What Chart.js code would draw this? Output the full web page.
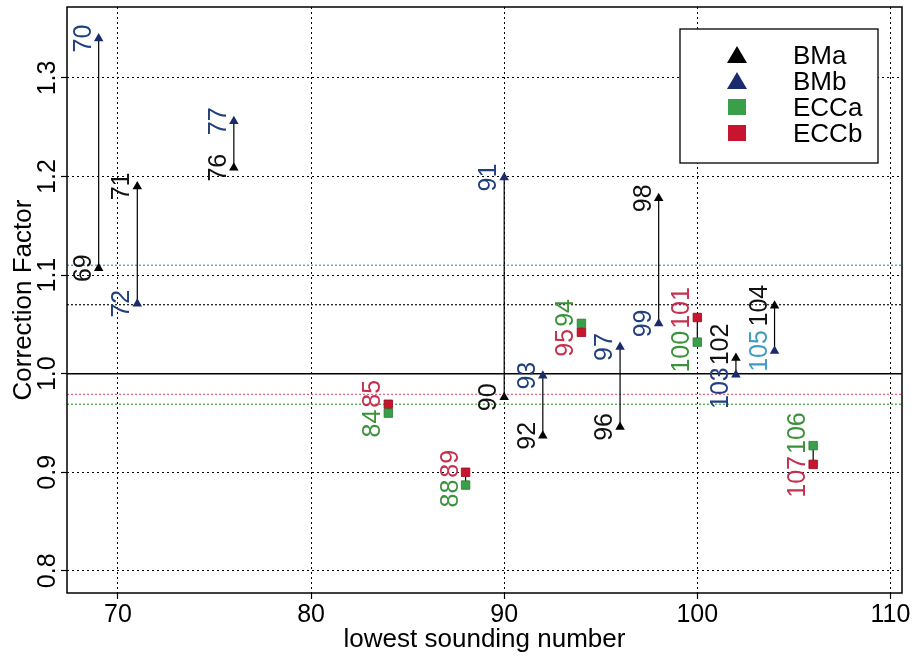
<!DOCTYPE html>
<html>
<head>
<meta charset="utf-8">
<script src="https://cdn.jsdelivr.net/npm/chart.js@4.4.1/dist/chart.umd.min.js"></script>
<style>
  html, body { margin: 0; padding: 0; background: #fff; }
</style>
</head>
<body>
<canvas id="c" width="916" height="656"></canvas>
<script>
// BM pairs: a and b share the same x
const bmX = [69, 71, 76, 90, 92, 96, 98, 102, 104];
const bmaValues = [1.107, 1.190, 1.209, 0.976, 0.937, 0.946, 1.178, 1.016, 1.069];
const bmbValues = [1.340, 1.071, 1.256, 1.199, 0.998, 1.027, 1.051, 0.999, 1.023];
const bmaLabels = ['69', '71', '76', '90', '92', '96', '98', '102', '104'];
const bmbLabels = ['70', '72', '77', '91', '93', '97', '99', '103', '105'];

// ECC pairs
const eccX = [84, 88, 94, 100, 106];
const eccaValues = [0.960, 0.887, 1.051, 1.032, 0.927];
const eccbValues = [0.969, 0.900, 1.042, 1.057, 0.908];
const eccaLabels = ['84', '88', '94', '100', '106'];
const eccbLabels = ['85', '89', '95', '101', '107'];

// mean levels: BMb, BMa, ECCb, ECCa
const meanLevels = [1.110, 1.070, 0.979, 0.969];

const xTicks = [70, 80, 90, 100, 110];
const yTicks = [0.8, 0.9, 1.0, 1.1, 1.2, 1.3];
const seriesNames = ['BMa', 'BMb', 'ECCa', 'ECCb'];

const FONT = '"Liberation Sans", Arial, Helvetica, sans-serif';
Chart.defaults.font.family = FONT;

const colors = {
    bma: '#000000',
    bmb: '#1b2a6b',
    ecca: '#3a9f4a',
    eccb: '#c8142e'
};
const labelColors = {
    bma: '#111111',
    bmb: '#22407e',
    ecca: '#3c923c',
    eccb: '#c43050'
};
const labelColorOverride = { '105': '#3f9cc3' };
const meanColors = ['#4f9cc8', '#222222', '#e46a86', '#4aa84a'];

function toPoints(xs, ys) {
    return xs.map((x, i) => ({ x: x, y: ys[i] }));
}

function pairSegments(xs, a, b) {
    const pts = [];
    xs.forEach((x, i) => {
        pts.push({ x: x, y: a[i] }, { x: x, y: b[i] }, { x: x, y: null });
    });
    return pts;
}

const gridOpts = {
    color: '#000',
    lineWidth: 1,
    drawTicks: true,
    tickLength: 6,
    tickColor: '#000',
    tickWidth: 1.2,
    tickBorderDash: []
};

// mean lines + the solid 1.0 line, under the marks
const refLines = {
    id: 'refLines',
    beforeDatasetsDraw(chart) {
        const { ctx, chartArea, scales } = chart;
        ctx.save();
        ctx.lineWidth = 1.3;
        meanLevels.forEach((v, i) => {
            const y = scales.y.getPixelForValue(v);
            ctx.strokeStyle = meanColors[i];
            ctx.setLineDash([2, 2]);
            ctx.beginPath();
            ctx.moveTo(chartArea.left, y);
            ctx.lineTo(chartArea.right, y);
            ctx.stroke();
        });
        ctx.setLineDash([]);
        ctx.strokeStyle = '#000';
        ctx.lineWidth = 1.6;
        const y1 = scales.y.getPixelForValue(1.0);
        ctx.beginPath();
        ctx.moveTo(chartArea.left, y1);
        ctx.lineTo(chartArea.right, y1);
        ctx.stroke();
        ctx.restore();
    }
};

// frame, y tick labels, point labels, legend
const decorations = {
    id: 'decorations',
    afterDraw(chart) {
        const { ctx, chartArea, scales } = chart;
        ctx.save();

        ctx.strokeStyle = '#000';
        ctx.lineWidth = 1.5;
        ctx.strokeRect(chartArea.left, chartArea.top,
            chartArea.right - chartArea.left, chartArea.bottom - chartArea.top);

        // y tick labels, written along the axis
        ctx.font = '25px ' + FONT;
        ctx.fillStyle = '#000';
        ctx.textAlign = 'center';
        ctx.textBaseline = 'alphabetic';
        yTicks.forEach(v => {
            const y = scales.y.getPixelForValue(v);
            ctx.save();
            ctx.translate(chartArea.left - 12, y);
            ctx.rotate(-Math.PI / 2);
            ctx.fillText(v.toFixed(1), 0, 0);
            ctx.restore();
        });

        // point labels
        const gap = 2;
        function drawPair(x, vA, vB, tA, tB, cA, cB) {
            const px = scales.x.getPixelForValue(x);
            const items = [
                { py: scales.y.getPixelForValue(vA), text: tA, color: labelColorOverride[tA] || cA },
                { py: scales.y.getPixelForValue(vB), text: tB, color: labelColorOverride[tB] || cB }
            ];
            items.forEach(it => { it.len = ctx.measureText(it.text).width; it.cy = it.py; });
            const up = items[0].py <= items[1].py ? items[0] : items[1];
            const lo = up === items[0] ? items[1] : items[0];
            if (up.py + up.len / 2 + gap > lo.py - lo.len / 2) {
                const mid = (up.py + lo.py) / 2;
                up.cy = mid - gap / 2 - up.len / 2;
                lo.cy = mid + gap / 2 + lo.len / 2;
            }
            items.forEach(it => {
                ctx.save();
                ctx.fillStyle = it.color;
                ctx.translate(px - 8, it.cy);
                ctx.rotate(-Math.PI / 2);
                ctx.fillText(it.text, 0, 0);
                ctx.restore();
            });
        }
        ctx.font = '25px ' + FONT;
        ctx.textAlign = 'center';
        bmX.forEach((x, i) => drawPair(x, bmaValues[i], bmbValues[i], bmaLabels[i], bmbLabels[i],
            labelColors.bma, labelColors.bmb));
        eccX.forEach((x, i) => drawPair(x, eccaValues[i], eccbValues[i], eccaLabels[i], eccbLabels[i],
            labelColors.ecca, labelColors.eccb));

        // legend
        const lx = 680, ly = 29, lw = 198, lh = 134;
        ctx.fillStyle = '#fff';
        ctx.fillRect(lx, ly, lw, lh);
        ctx.strokeStyle = '#000';
        ctx.lineWidth = 1.3;
        ctx.strokeRect(lx, ly, lw, lh);
        const rows = [55, 81, 107, 133];
        const mcol = [colors.bma, colors.bmb, colors.ecca, colors.eccb];
        ctx.font = '26px ' + FONT;
        ctx.textAlign = 'left';
        seriesNames.forEach((name, i) => {
            const cy = rows[i];
            ctx.fillStyle = mcol[i];
            ctx.beginPath();
            if (i < 2) {
                ctx.moveTo(737, cy - 9);
                ctx.lineTo(747, cy + 8);
                ctx.lineTo(727, cy + 8);
                ctx.closePath();
                ctx.fill();
            } else {
                ctx.fillRect(728, cy - 8, 18, 16);
            }
            ctx.fillStyle = '#000';
            ctx.fillText(name, 793, cy + 9);
        });

        ctx.restore();
    }
};

new Chart(document.getElementById('c'), {
    type: 'scatter',
    data: {
        datasets: [
            {
                label: 'BM pairs', type: 'line', data: pairSegments(bmX, bmaValues, bmbValues),
                borderColor: '#000', borderWidth: 1.2, pointRadius: 0, spanGaps: false, order: 10
            },
            {
                label: 'ECC pairs', type: 'line', data: pairSegments(eccX, eccaValues, eccbValues),
                borderColor: '#000', borderWidth: 1.2, pointRadius: 0, spanGaps: false, order: 10
            },
            {
                label: 'BMa', data: toPoints(bmX, bmaValues), pointStyle: 'triangle',
                pointRadius: 5.5, backgroundColor: colors.bma, borderColor: colors.bma, borderWidth: 0, order: 1
            },
            {
                label: 'BMb', data: toPoints(bmX, bmbValues), pointStyle: 'triangle',
                pointRadius: 5.5, backgroundColor: colors.bmb, borderColor: colors.bmb, borderWidth: 0, order: 1
            },
            {
                label: 'ECCa', data: toPoints(eccX, eccaValues), pointStyle: 'rect',
                pointRadius: 6, backgroundColor: colors.ecca, borderColor: '#2a7a36', borderWidth: 0.8, order: 1
            },
            {
                label: 'ECCb', data: toPoints(eccX, eccbValues), pointStyle: 'rect',
                pointRadius: 6, backgroundColor: colors.eccb, borderColor: '#8f0c20', borderWidth: 0.8, order: 1
            }
        ]
    },
    options: {
        responsive: false,
        animation: false,
        layout: { padding: { left: 0, right: 14, top: 7, bottom: 0 } },
        plugins: { legend: { display: false }, tooltip: { enabled: false } },
        scales: {
            x: {
                type: 'linear',
                min: 67.36,
                max: 110.6,
                afterBuildTicks: s => { s.ticks = xTicks.map(v => ({ value: v })); },
                afterFit: s => { s.height = 63; },
                ticks: { font: { size: 25 }, color: '#000', padding: 1, maxRotation: 0, callback: v => String(v) },
                grid: gridOpts,
                border: { display: false, dash: [2, 3] },
                title: {
                    display: true, text: 'lowest sounding number', color: '#000',
                    font: { size: 26 }, padding: { top: 0, bottom: 1 }
                }
            },
            y: {
                type: 'linear',
                min: 0.7775,
                max: 1.372,
                afterBuildTicks: s => { s.ticks = yTicks.map(v => ({ value: v })); },
                afterFit: s => { s.width = 67; },
                ticks: { display: false },
                grid: gridOpts,
                border: { display: false, dash: [2, 3] },
                title: {
                    display: true, text: 'Correction Factor', color: '#000',
                    font: { size: 26 }, padding: { top: 8, bottom: 0 }
                }
            }
        }
    },
    plugins: [refLines, decorations]
});
</script>
</body>
</html>
